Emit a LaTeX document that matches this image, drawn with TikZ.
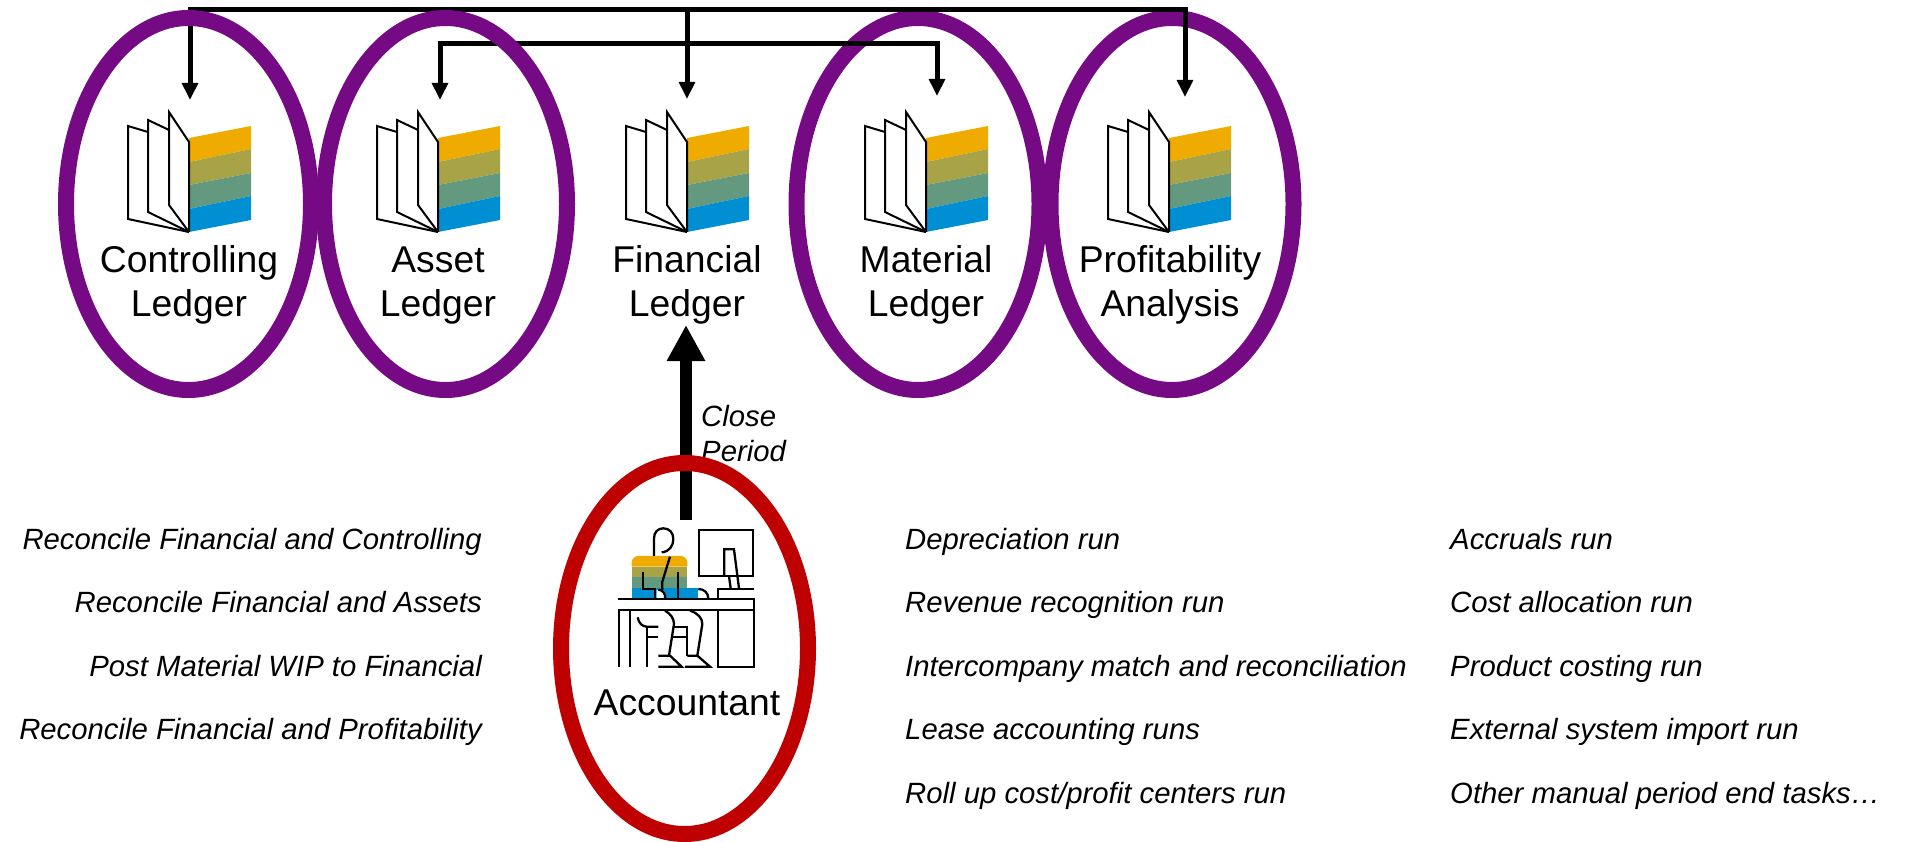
\documentclass[tikz,border=0pt]{standalone}
\usepackage{fontspec}
\setmainfont{Liberation Sans}
\usetikzlibrary{arrows.meta}
\definecolor{ledgerpurple}{HTML}{760A85}
\definecolor{acctred}{HTML}{BF0000}
\definecolor{bandyellow}{HTML}{F0AB00}
\definecolor{bandolive}{HTML}{A8A346}
\definecolor{bandgreen}{HTML}{63997F}
\definecolor{bandblue}{HTML}{008FD3}
\tikzset{
  ring/.style={line width=16pt},
  busarrow/.style={line width=5pt, -{Triangle[length=17pt,width=15.5pt]}},
  ledgername/.style={align=center, inner sep=0pt, font=\fontsize{37.3}{44}\selectfont},
  taskname/.style={inner sep=0pt, font=\fontsize{29.3}{35}\selectfont\itshape},
  page/.style={line width=2pt, line join=miter, fill=white},
  icon/.style={line width=2.3pt}
}
% book with its spine foot at the given point
\newcommand{\ledgerbook}[1]{
\begin{scope}[shift={(#1,232)}]
\fill[bandyellow] (0,-94) -- (62,-106) -- (62,-83) -- (0,-70) -- cycle;
\fill[bandolive] (0,-70) -- (62,-83) -- (62,-59) -- (0,-47) -- cycle;
\fill[bandgreen] (0,-47) -- (62,-59) -- (62,-36) -- (0,-23) -- cycle;
\fill[bandblue] (0,-23) -- (62,-36) -- (62,-12) -- (0,0) -- cycle;
\draw[page] (-41,-100) -- (-61,-106) -- (-61,-13) -- (0,0);
\draw[page] (-20,-102) -- (-41,-112) -- (-41,-20) -- (0,0);
\draw[page] (0,0) -- (-20,-27) -- (-20,-120) -- (0,-90) -- (0,0);
\end{scope}
}
\begin{document}
\begin{tikzpicture}[x=1pt, y=-1pt]
\useasboundingbox (0,0) rectangle (1908,842);

% bus junctions and arrow tips
\coordinate (busFL) at (687,9.5);
\coordinate (subFL) at (687,43.5);
\coordinate (tipCL) at (190,100);
\coordinate (tipAL) at (440,100);
\coordinate (tipFL) at (687,99);
\coordinate (tipML) at (937,96);
\coordinate (tipPA) at (1185,97);

% these two lie below the connectors
\draw[ledgerpurple, ring] (918,204) ellipse (121.5pt and 186pt);
\draw[ledgerpurple, ring] (1172,204) ellipse (121.5pt and 186pt);

\draw[busarrow] (busFL) -| (tipCL);
\draw[busarrow] (busFL) -| (tipPA);
\draw[busarrow] (busFL) -- (tipFL);
\draw[busarrow] (subFL) -| (tipAL);
\draw[busarrow] (subFL) -| (tipML);

% these two lie above them
\draw[ledgerpurple, ring] (188.5,204) ellipse (122.5pt and 186pt);
\draw[ledgerpurple, ring] (445.5,204) ellipse (121.5pt and 186pt);

\ledgerbook{189}
\ledgerbook{438}
\ledgerbook{687}
\ledgerbook{926}
\ledgerbook{1169}

\node[ledgername] (nameCL) at (189,284.5) {Controlling\\Ledger};
\node[ledgername] (nameAL) at (438,285.5) {Asset\\Ledger};
\node[ledgername] (nameFL) at (687,284.5) {Financial\\Ledger};
\node[ledgername] (nameML) at (926,284.5) {Material\\Ledger};
\node[ledgername] (namePA) at (1170,284.5) {Profitability\\Analysis};

% close period arrow
\coordinate (closeFoot) at (686,520);
\coordinate (closeTip) at (686,325);
\draw[line width=12pt, -{Triangle[length=36pt,width=36pt]}] (closeFoot) -- (closeTip);
\node[taskname, align=left, anchor=west] (closeName) at (701,434) {Close\\Period};

\draw[acctred, ring] (684.5,648.5) ellipse (123.5pt and 185.5pt);

% accountant
\begin{scope}[shift={(600,520)}, x=0.3333pt, y=-0.3333pt]
\fill[bandyellow] (95,140) -- (95,128) arc[start angle=180, end angle=90, radius=6.67pt] -- (242,108) arc[start angle=90, end angle=0, radius=6.67pt] -- (262,140) -- cycle;
\fill[bandolive] (95,140) rectangle (262,172);
\fill[bandgreen] (95,172) rectangle (262,204);
\fill[bandblue] (95,204) rectangle (295,236);
\fill[white] (170,210) rectangle (183,236) (183,223) circle (4.5pt);
\fill[white] (295,207) -- (295,236) -- (325,236) .. controls (325,218) and (312,207) .. (295,207);
\draw[icon] (162,108) -- (162,55) .. controls (162,35) and (175,25) .. (190,25) .. controls (208,25) and (220,38) .. (220,57) .. controls (220,78) and (208,95) .. (185,97);
\draw[icon] (210,110) -- (187,185) -- (187,208) -- (183,208);
\draw[icon] (130,155) -- (130,208) -- (165,208) -- (165,236);
\draw[icon] (196,236) .. controls (196,222) and (190,210) .. (175,209);
\draw[icon] (234,155) -- (234,236);
\draw[icon] (295,207) .. controls (312,207) and (325,218) .. (325,236);
\draw[icon] (55,238) -- (462,238) -- (462,440) -- (353,440) -- (353,270);
\draw[icon] (55,270) -- (462,270);
\draw[icon] (58,270) -- (58,442);
\draw[icon] (90,270) -- (90,442);
\draw[icon] (113,292) .. controls (116,310) and (128,320) .. (140,320) -- (175,320);
\draw[icon] (140,320) -- (140,442);
\draw[icon] (140,352) -- (175,352);
\draw[icon] (195,272) .. controls (212,282) and (222,295) .. (222,312) -- (207,407);
\draw[icon] (175,407) -- (210,407) -- (245,440) -- (175,440);
\draw[icon] (270,272) .. controls (295,280) and (307,295) .. (307,312) -- (292,407) -- (262,407);
\draw[icon] (292,407) -- (330,440) -- (255,440);
\draw[icon] (222,320) -- (262,320) -- (262,407);
\draw[icon] (215,352) -- (262,352);
\draw[icon] (298,30) rectangle (460,168);
\draw[icon] (373,168) -- (373,88) -- (402,88) -- (417,205);
\draw[icon] (387,168) -- (392,205);
\draw[icon] (353,236) -- (353,207) -- (462,207);
\end{scope}
\node[ledgername] (nameAC) at (687,703) {Accountant};

% period end tasks
\node[taskname, anchor=base east] (taskA) at (482,549) {Reconcile Financial and Controlling};
\node[taskname, anchor=base east] (taskB) at (482,612.5) {Reconcile Financial and Assets};
\node[taskname, anchor=base east] (taskC) at (482,676) {Post Material WIP to Financial};
\node[taskname, anchor=base east] (taskD) at (482,739.5) {Reconcile Financial and Profitability};

\node[taskname, anchor=base west] (runA) at (905,549) {Depreciation run};
\node[taskname, anchor=base west] (runB) at (905,612.5) {Revenue recognition run};
\node[taskname, anchor=base west] (runC) at (905,676) {Intercompany match and reconciliation};
\node[taskname, anchor=base west] (runD) at (905,739.5) {Lease accounting runs};
\node[taskname, anchor=base west] (runE) at (905,803) {Roll up cost/profit centers run};

\node[taskname, anchor=base west] (otherA) at (1450,549) {Accruals run};
\node[taskname, anchor=base west] (otherB) at (1450,612.5) {Cost allocation run};
\node[taskname, anchor=base west] (otherC) at (1450,676) {Product costing run};
\node[taskname, anchor=base west] (otherD) at (1450,739.5) {External system import run};
\node[taskname, anchor=base west] (otherE) at (1450,803) {Other manual period end tasks…};
\end{tikzpicture}
\end{document}
